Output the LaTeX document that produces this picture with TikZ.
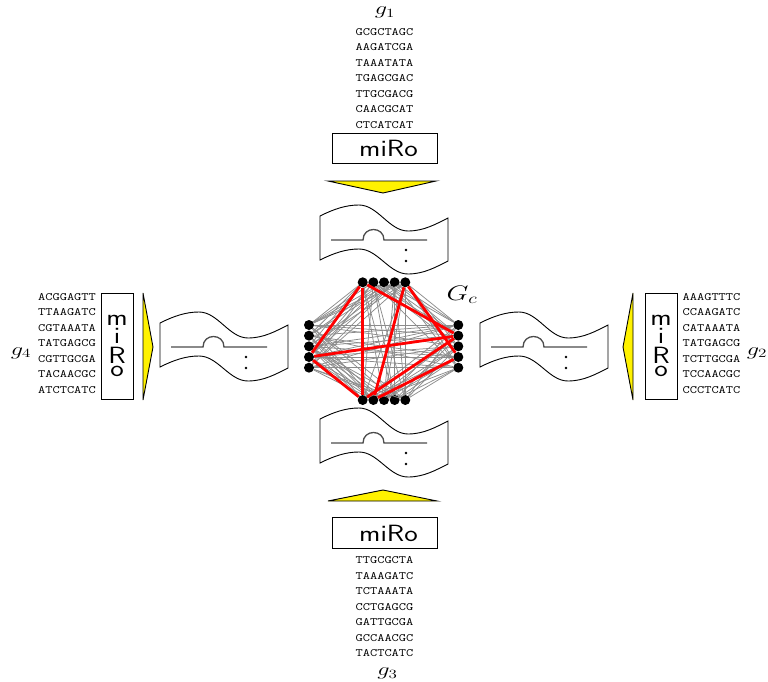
\documentclass[tikz,border=0pt]{standalone}
\usepackage{fix-cm}
\usepackage{fontspec}
\usepackage{graphicx}
\tikzset{
  gnode/.style={circle,fill=black,draw=none,inner sep=0pt,minimum size=10pt},
  grayedge/.style={draw=black!45,line width=0.75pt},
  rededge/.style={draw=red,line width=2.8pt},
  tri/.style={draw=black,fill=yellow,line width=0.9pt,line join=miter},
  mirobox/.style={draw=black,line width=0.9pt,inner sep=0pt},
  seq/.style={inner sep=0pt},
  lbl/.style={inner sep=0pt,anchor=base},
  docline/.style={draw=black,line width=0.9pt,fill=white},
  innerline/.style={draw=black!70,line width=1.3pt},
}
\newcommand\seqtext[1]{\scalebox{1.25}[1]{\fontsize{11.2}{15.5}\selectfont\ttfamily\begin{tabular}{@{}c@{}}#1\end{tabular}}}
\newcommand\glab[1]{\scalebox{1.35}[1]{\fontsize{18}{20}\selectfont$#1$}}
\newcommand\mirotext[1]{\scalebox{1.22}[1]{\fontsize{23.5}{26}\selectfont\sffamily #1}}
\newcommand\tapedoc[1]{%
  \begin{scope}[shift={#1}]
    \draw[docline] (-64,-24) .. controls (-50,-31) and (-38,-35) .. (-25,-35)
      .. controls (-6,-35) and (5,-9) .. (24,-9)
      .. controls (40,-9) and (52,-16) .. (64,-22) -- (64,21)
      .. controls (52,27) and (40,34) .. (24,34)
      .. controls (5,34) and (-6,9) .. (-25,9)
      .. controls (-38,9) and (-50,13) .. (-64,20) -- cycle;
    \draw[innerline] (-53,0) -- (-21,0) .. controls (-21,-14) and (0,-14) .. (0,0) -- (43,0);
    \fill (22,10) circle[radius=1.4];
    \fill (22,21) circle[radius=1.4];
  \end{scope}}
\begin{document}
\begin{tikzpicture}[x=1pt,y=-1pt]
\useasboundingbox (0,0) rectangle (768,682);

% sequences
\node[seq] (s1) at (384.5,78.5) {\seqtext{GCGCTAGC\\AAGATCGA\\TAAATATA\\TGAGCGAC\\TTGCGACG\\CAACGCAT\\CTCATCAT}};
\node[seq] (s2) at (711.5,343.5) {\seqtext{AAAGTTTC\\CCAAGATC\\CATAAATA\\TATGAGCG\\TCTTGCGA\\TCCAACGC\\CCCTCATC}};
\node[seq] (s3) at (384.5,607) {\seqtext{TTGCGCTA\\TAAAGATC\\TCTAAATA\\CCTGAGCG\\GATTGCGA\\GCCAACGC\\TACTCATC}};
\node[seq] (s4) at (67,343.5) {\seqtext{ACGGAGTT\\TTAAGATC\\CGTAAATA\\TATGAGCG\\CGTTGCGA\\TACAACGC\\ATCTCATC}};

% labels
\node[lbl] (g1) at (385,14.7) {\glab{g_1}};
\node[lbl] (g2) at (757,355) {\glab{g_2}};
\node[lbl] (g3) at (387.5,675.5) {\glab{g_3}};
\node[lbl] (g4) at (21,355) {\glab{g_4}};
\node[lbl] (gc) at (462,300) {\scalebox{1.35}[1]{\fontsize{21}{24}\selectfont$G_c$}};

% miRo boxes
\node[mirobox,minimum width=105pt,minimum height=30pt] (m1) at (384.5,148.5) {\hspace{8pt}\mirotext{miRo}};
\node[mirobox,minimum width=105pt,minimum height=31pt] (m3) at (384.5,533) {\hspace{8pt}\mirotext{miRo}};
\node[mirobox,minimum width=32pt,minimum height=106pt] (m4) at (117,346) {\mirotext{\shortstack{m\\i\\R\\o}}};
\node[mirobox,minimum width=32pt,minimum height=106pt] (m2) at (661,346) {\mirotext{\shortstack{m\\i\\R\\o}}};

% yellow triangles
\draw[tri] (328,181) -- (436,181) -- (383,193) -- cycle;
\draw[tri] (328,501) -- (437,501) -- (383,490) -- cycle;
\draw[tri] (143,293) -- (143,400) -- (153,347) -- cycle;
\draw[tri] (633,293) -- (633,400) -- (623,347) -- cycle;

% tape documents
\tapedoc{(384,240)}
\tapedoc{(384,443)}
\tapedoc{(224,347)}
\tapedoc{(544,347)}

% graph nodes
\foreach \i in {1,...,5}{
  \pgfmathsetmacro\xx{362.7+10.65*(\i-1)}
  \pgfmathsetmacro\yy{325+10.67*(\i-1)}
  \node[gnode] (T\i) at (\xx,282.3) {};
  \node[gnode] (B\i) at (\xx,400) {};
  \node[gnode] (L\i) at (309,\yy) {};
  \node[gnode] (R\i) at (458.3,\yy) {};
}
% gray edges
\foreach \a/\b/\s in {T/B/1,T/L/2,T/R/3,B/L/4,B/R/0,L/R/2}{
  \foreach \i in {1,...,5}{
    \foreach \j in {1,...,5}{
      \pgfmathtruncatemacro\k{mod(3*\i+7*\j+\s*\i*\j,5)}
      \ifnum\k<3 \draw[grayedge] (\a\i) -- (\b\j);\fi
    }
  }
}
% red edges
\foreach \a/\b in {T1/L4,T1/B1,T1/R2,T5/B2,T5/R4,L4/R2,L4/B1,B1/R2,B2/R4}{
  \draw[rededge] (\a) -- (\b);
}
\end{tikzpicture}
\end{document}
